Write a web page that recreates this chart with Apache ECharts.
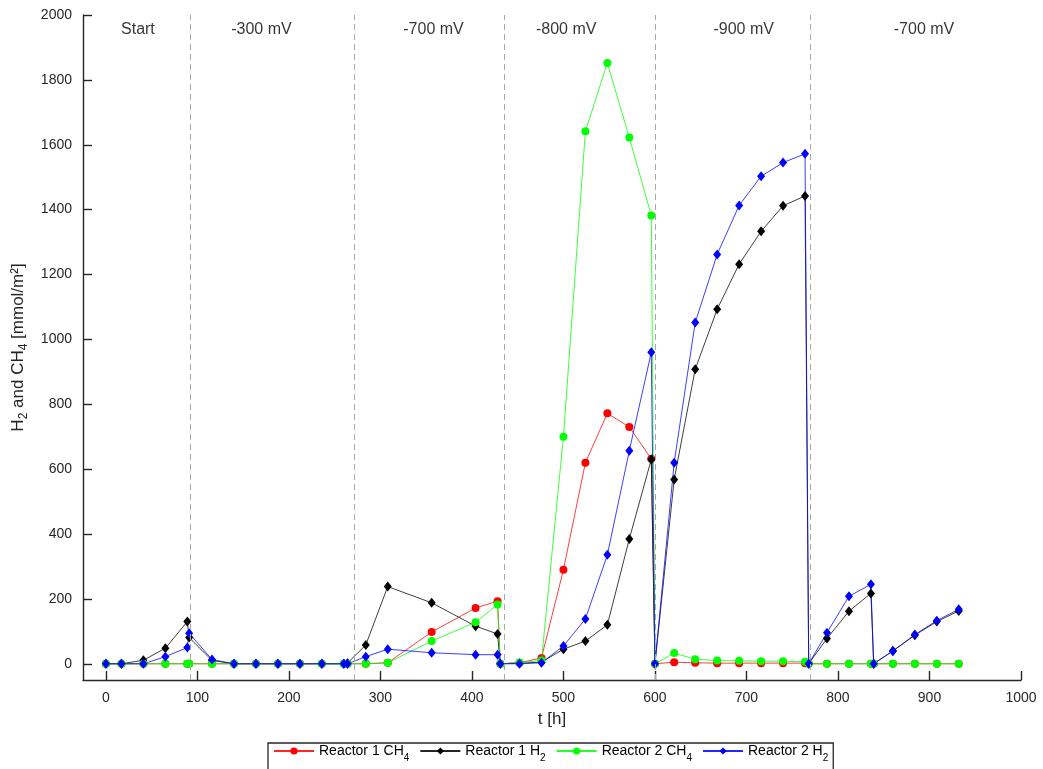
<!DOCTYPE html>
<html>
<head>
<meta charset="utf-8">
<title>H2 and CH4</title>
<script src="https://cdn.jsdelivr.net/npm/echarts@6.0.0/dist/echarts.min.js"></script>
<style>
  html, body { margin: 0; padding: 0; background: #fff; }
  #main { width: 1043px; height: 769px; }
</style>
</head>
<body>
<div id="main"></div>
<script>
// sampling times [h]
var times = [0, 17, 41, 65, 89, 91, 116, 140, 164, 188, 212, 236, 260, 264, 284, 308,
    356, 404, 428, 431, 452, 476, 500, 524, 548, 572, 596, 600, 621, 644, 668, 692,
    716, 740, 764, 768, 788, 812, 836, 839, 860, 884, 908, 932];

var r1CH4 = [0, 0, 0, 0, 0, 0, 0, 0, 0, 0, 0, 0, 0, 0, 0, 3,
    98, 172, 193, 0, 3, 18, 290, 620, 772, 730, 632, 0, 5, 3, 2, 2,
    2, 2, 2, 0, 0, 0, 0, 0, 0, 0, 0, 0];
var r1H2 = [0, 0, 11, 48, 130, 81, 10, 0, 0, 0, 0, 0, 0, 2, 58, 238,
    188, 116, 92, 0, 2, 5, 45, 70, 120, 385, 630, 0, 568, 908, 1093, 1232,
    1333, 1412, 1442, 0, 78, 162, 217, 0, 40, 88, 130, 163];
var r2CH4 = [0, 0, 0, 0, 0, 0, 0, 0, 0, 0, 0, 0, 0, 0, 0, 3,
    70, 128, 183, 0, 4, 10, 700, 1642, 1852, 1622, 1382, 0, 33, 14, 10, 9,
    8, 8, 6, 0, 0, 0, 0, 0, 0, 0, 0, 0];
var r2H2 = [0, 0, 0, 22, 50, 94, 13, 0, 0, 0, 0, 0, 0, 0, 22, 45,
    34, 28, 28, 0, 0, 3, 55, 138, 336, 657, 960, 0, 620, 1052, 1262, 1413,
    1503, 1545, 1572, 0, 96, 208, 245, 0, 39, 90, 133, 168];

// potential steps
var phaseBounds = [92, 271, 435, 600, 770];
var phaseNames = ['Start', '-300 mV', '-700 mV', '-800 mV', '-900 mV', '-700 mV'];
var phaseLabelX = [35, 170, 358, 503, 697, 894];
var phaseLabelY = 1955;

var xTicks = [0, 100, 200, 300, 400, 500, 600, 700, 800, 900, 1000];
var yTicks = [0, 200, 400, 600, 800, 1000, 1200, 1400, 1600, 1800, 2000];

var seriesNames = ['Reactor 1 CH4', 'Reactor 1 H2', 'Reactor 2 CH4', 'Reactor 2 H2'];
var legendRich = {
    'Reactor 1 CH4': '{a|Reactor 1 CH}{s|4}',
    'Reactor 1 H2': '{a|Reactor 1 H}{s|2}',
    'Reactor 2 CH4': '{a|Reactor 2 CH}{s|4}',
    'Reactor 2 H2': '{a|Reactor 2 H}{s|2}'
};

var textColor = '#262626';
var fontName = '"Liberation Sans", Arial, Helvetica, sans-serif';

function pairs(values) {
    var out = [];
    for (var i = 0; i < times.length; i++) {
        out.push([times[i], values[i]]);
    }
    return out;
}

function plain(v) {
    return String(v);
}

function lineSeries(name, values, color, symbol, size) {
    return {
        name: name,
        type: 'line',
        data: pairs(values),
        symbol: symbol,
        symbolSize: size,
        showAllSymbol: true,
        itemStyle: { color: color },
        lineStyle: { color: color, width: 0.9, opacity: 0.85 },
        emphasis: { disabled: true },
        animation: false
    };
}

var markData = phaseBounds.map(function (x) { return { xAxis: x }; });
var phaseData = phaseNames.map(function (n, i) {
    return { name: n, value: [phaseLabelX[i], phaseLabelY] };
});

var series = [
    lineSeries(seriesNames[0], r1CH4, '#ff0000', 'circle', 8),
    lineSeries(seriesNames[1], r1H2, '#000000', 'diamond', [8, 10]),
    lineSeries(seriesNames[2], r2CH4, '#00ff00', 'circle', 8),
    lineSeries(seriesNames[3], r2H2, '#0000ff', 'diamond', [8, 10])
];

series[0].markLine = {
    silent: true,
    symbol: ['none', 'none'],
    label: { show: false },
    lineStyle: { color: '#a8a8a8', type: [6, 4], width: 1 },
    data: markData,
    animation: false
};
series[0].z = 1;

series.push({
    name: 'phases',
    type: 'scatter',
    data: phaseData,
    symbolSize: 0,
    silent: true,
    label: {
        show: true,
        position: 'inside',
        formatter: '{b}',
        color: '#000',
        fontSize: 16,
        fontFamily: fontName
    },
    animation: false
});

var chart = echarts.init(document.getElementById('main'));

var option = {
    animation: false,
    textStyle: { fontFamily: fontName },
    grid: { left: 83, right: 22, top: 15, bottom: 89, containLabel: false },
    xAxis: {
        type: 'value',
        min: -25,
        max: 1000,
        name: 't [h]',
        nameLocation: 'middle',
        nameGap: 31,
        nameTextStyle: { color: textColor, fontSize: 17, fontFamily: fontName },
        axisLine: { onZero: false, lineStyle: { color: textColor, width: 1.4 } },
        axisTick: { inside: true, length: 9, customValues: xTicks, lineStyle: { color: textColor, width: 1.4 } },
        axisLabel: { customValues: xTicks, formatter: plain, color: textColor, fontSize: 14, margin: 11, fontFamily: fontName },
        splitLine: { show: false }
    },
    yAxis: {
        type: 'value',
        min: -50,
        max: 2000,
        name: 'H{s|2} and CH{s|4} [mmol/m²]',
        nameLocation: 'middle',
        nameRotate: 90,
        nameGap: 49,
        nameTextStyle: {
            color: textColor,
            fontSize: 17,
            fontFamily: fontName,
            rich: {
                s: { fontSize: 12, padding: [12, 0, 0, 0], color: textColor, fontFamily: fontName }
            }
        },
        axisLine: { onZero: false, lineStyle: { color: textColor, width: 1.4 } },
        axisTick: { inside: true, length: 9, customValues: yTicks, lineStyle: { color: textColor, width: 1.4 } },
        axisLabel: { customValues: yTicks, formatter: plain, color: textColor, fontSize: 14, margin: 11, fontFamily: fontName },
        splitLine: { show: false }
    },
    legend: {
        data: seriesNames,
        left: 268,
        top: 743,
        orient: 'horizontal',
        padding: [1, 5, 12, 5],
        itemGap: 10,
        itemWidth: 40,
        itemHeight: 9,
        borderColor: textColor,
        borderWidth: 1.3,
        backgroundColor: '#fff',
        selectedMode: false,
        formatter: function (name) { return legendRich[name]; },
        textStyle: {
            color: '#000',
            fontFamily: fontName,
            rich: {
                a: { fontSize: 14, color: '#000', fontFamily: fontName },
                s: { fontSize: 10, padding: [14, 0, 0, 0], color: '#000', fontFamily: fontName }
            }
        }
    },
    series: series
};

chart.setOption(option);
</script>
</body>
</html>
